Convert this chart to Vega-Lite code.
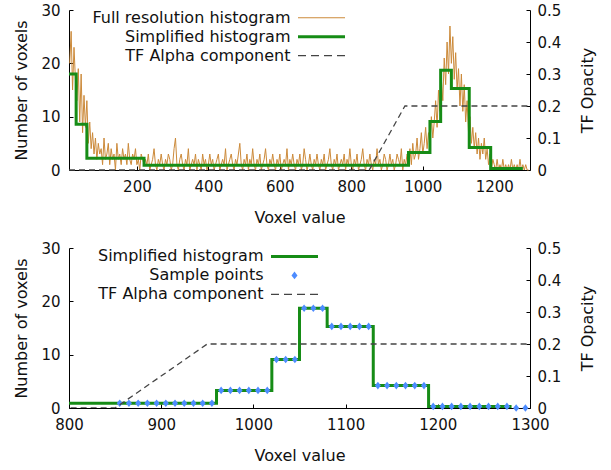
{
  "$schema": "https://vega.github.io/schema/vega-lite/v6.json",
  "padding": {"left": 13, "top": 3, "right": 5, "bottom": 5},
  "spacing": 16,
  "datasets": {
    "full": [
      {"v":12,"n":20},{"v":16,"n":26},{"v":20,"n":15},{"v":24,"n":23},{"v":28,"n":17},{"v":32,"n":13},{"v":36,"n":19},{"v":40,"n":9},{"v":44,"n":18},{"v":48,"n":7},{"v":52,"n":14},{"v":56,"n":8},{"v":60,"n":13},{"v":64,"n":5},{"v":68,"n":9},{"v":72,"n":4},{"v":76,"n":7},{"v":80,"n":3},{"v":84,"n":6},{"v":88,"n":2},{"v":92,"n":5},{"v":96,"n":3},{"v":100,"n":4},{"v":104,"n":1},{"v":108,"n":6},{"v":112,"n":2},{"v":116,"n":3},{"v":120,"n":5},{"v":124,"n":1},{"v":128,"n":4},{"v":132,"n":2},{"v":136,"n":3},{"v":140,"n":0},{"v":144,"n":5},{"v":148,"n":2},{"v":152,"n":3},{"v":156,"n":1},{"v":160,"n":4},{"v":164,"n":2},{"v":168,"n":3},{"v":172,"n":1},{"v":176,"n":5},{"v":180,"n":2},{"v":184,"n":1},{"v":188,"n":3},{"v":192,"n":2},{"v":196,"n":4},{"v":200,"n":1},{"v":204,"n":2},{"v":208,"n":0},{"v":212,"n":3},{"v":216,"n":2},{"v":220,"n":1},
      {"v":224,"n":2},{"v":228,"n":1},{"v":232,"n":3},{"v":236,"n":0},{"v":240,"n":1},{"v":244,"n":2},{"v":248,"n":4},{"v":252,"n":1},{"v":256,"n":0},{"v":260,"n":2},{"v":264,"n":1},{"v":268,"n":3},{"v":272,"n":1},{"v":276,"n":0},{"v":280,"n":2},{"v":284,"n":1},{"v":288,"n":3},{"v":292,"n":2},{"v":296,"n":0},{"v":300,"n":1},{"v":304,"n":4},{"v":308,"n":6},{"v":312,"n":1},{"v":316,"n":0},{"v":320,"n":2},{"v":324,"n":3},{"v":328,"n":1},{"v":332,"n":0},{"v":336,"n":2},{"v":340,"n":1},{"v":344,"n":4},{"v":348,"n":0},{"v":352,"n":1},{"v":356,"n":2},{"v":360,"n":1},{"v":364,"n":3},{"v":368,"n":0},{"v":372,"n":2},{"v":376,"n":1},{"v":380,"n":0},{"v":384,"n":3},{"v":388,"n":1},{"v":392,"n":2},{"v":396,"n":0},{"v":400,"n":1},{"v":404,"n":3},{"v":408,"n":1},{"v":412,"n":2},{"v":416,"n":0},{"v":420,"n":1},{"v":424,"n":2},{"v":428,"n":3},{"v":432,"n":0},{"v":436,"n":1},{"v":440,"n":2},{"v":444,"n":1},{"v":448,"n":4},{"v":452,"n":0},{"v":456,"n":1},{"v":460,"n":2},{"v":464,"n":3},{"v":468,"n":1},{"v":472,"n":0},{"v":476,"n":2},{"v":480,"n":1},{"v":484,"n":3},{"v":488,"n":5},{"v":492,"n":1},{"v":496,"n":0},{"v":500,"n":2},{"v":504,"n":1},{"v":508,"n":3},{"v":512,"n":0},{"v":516,"n":2},{"v":520,"n":1},{"v":524,"n":4},{"v":528,"n":1},{"v":532,"n":0},{"v":536,"n":2},{"v":540,"n":1},{"v":544,"n":3},{"v":548,"n":0},{"v":552,"n":1},{"v":556,"n":2},{"v":560,"n":4},{"v":564,"n":1},{"v":568,"n":0},{"v":572,"n":2},{"v":576,"n":1},{"v":580,"n":3},{"v":584,"n":1},{"v":588,"n":0},{"v":592,"n":2},{"v":596,"n":1},{"v":600,"n":3},{"v":604,"n":0},{"v":608,"n":1},{"v":612,"n":2},{"v":616,"n":1},{"v":620,"n":4},{"v":624,"n":0},{"v":628,"n":2},{"v":632,"n":1},{"v":636,"n":3},{"v":640,"n":1},{"v":644,"n":0},{"v":648,"n":2},{"v":652,"n":1},{"v":656,"n":3},{"v":660,"n":0},{"v":664,"n":1},{"v":668,"n":4},{"v":672,"n":2},{"v":676,"n":0},{"v":680,"n":1},{"v":684,"n":3},{"v":688,"n":1},{"v":692,"n":0},{"v":696,"n":2},{"v":700,"n":1},{"v":704,"n":3},{"v":708,"n":1},{"v":712,"n":0},{"v":716,"n":2},{"v":720,"n":1},{"v":724,"n":3},{"v":728,"n":0},{"v":732,"n":1},{"v":736,"n":2},{"v":740,"n":4},{"v":744,"n":1},{"v":748,"n":0},{"v":752,"n":2},{"v":756,"n":1},{"v":760,"n":3},{"v":764,"n":0},{"v":768,"n":1},{"v":772,"n":2},{"v":776,"n":1},{"v":780,"n":3},{"v":784,"n":0},{"v":788,"n":2},{"v":792,"n":1},{"v":796,"n":4},{"v":800,"n":1},{"v":804,"n":0},{"v":808,"n":2},{"v":812,"n":1},{"v":816,"n":3},{"v":820,"n":0},{"v":824,"n":1},{"v":828,"n":2},{"v":832,"n":4},{"v":836,"n":1},{"v":840,"n":0},{"v":844,"n":2},{"v":848,"n":1},{"v":852,"n":3},{"v":856,"n":1},{"v":860,"n":0},{"v":864,"n":2},{"v":868,"n":1},{"v":872,"n":4},{"v":876,"n":1},{"v":880,"n":2},{"v":884,"n":0},{"v":888,"n":1},{"v":892,"n":3},{"v":896,"n":2},{"v":900,"n":0},{"v":904,"n":1},{"v":908,"n":3},{"v":912,"n":1},{"v":916,"n":2},{"v":920,"n":0},{"v":924,"n":1},{"v":928,"n":3},{"v":932,"n":2},{"v":936,"n":1},{"v":940,"n":4},{"v":944,"n":0},{"v":948,"n":2},
      {"v":952,"n":1},{"v":956,"n":3},{"v":960,"n":2},{"v":964,"n":4},{"v":968,"n":1},{"v":972,"n":5},{"v":976,"n":2},{"v":980,"n":3},{"v":984,"n":6},{"v":988,"n":2},{"v":992,"n":4},{"v":996,"n":7},{"v":1000,"n":3},{"v":1004,"n":5},{"v":1008,"n":8},{"v":1012,"n":4},{"v":1016,"n":7},{"v":1020,"n":5},{"v":1024,"n":10},{"v":1028,"n":6},{"v":1032,"n":9},{"v":1036,"n":13},{"v":1040,"n":8},{"v":1044,"n":15},{"v":1048,"n":11},{"v":1052,"n":17},{"v":1056,"n":13},{"v":1060,"n":21},{"v":1064,"n":16},{"v":1068,"n":24},{"v":1072,"n":18},{"v":1076,"n":27},{"v":1080,"n":20},{"v":1084,"n":25},{"v":1088,"n":17},{"v":1092,"n":22},{"v":1096,"n":15},{"v":1100,"n":19},{"v":1104,"n":12},{"v":1108,"n":18},{"v":1112,"n":11},{"v":1116,"n":16},{"v":1120,"n":9},{"v":1124,"n":13},{"v":1128,"n":7},{"v":1132,"n":10},{"v":1136,"n":5},{"v":1140,"n":8},{"v":1144,"n":4},{"v":1148,"n":7},{"v":1152,"n":3},{"v":1156,"n":6},{"v":1160,"n":2},{"v":1164,"n":5},{"v":1168,"n":3},{"v":1172,"n":6},{"v":1176,"n":2},{"v":1180,"n":4},{"v":1184,"n":1},{"v":1188,"n":3},{"v":1192,"n":0},{"v":1196,"n":2},{"v":1200,"n":1},{"v":1204,"n":0},{"v":1208,"n":2},{"v":1212,"n":0},{"v":1216,"n":1},{"v":1220,"n":0},{"v":1224,"n":2},{"v":1228,"n":0},{"v":1232,"n":1},{"v":1236,"n":0},{"v":1240,"n":1},{"v":1244,"n":0},{"v":1248,"n":2},{"v":1252,"n":0},{"v":1256,"n":1},{"v":1260,"n":0},{"v":1264,"n":1},{"v":1268,"n":0},{"v":1272,"n":2},{"v":1276,"n":0},{"v":1280,"n":1},{"v":1284,"n":0},{"v":1288,"n":1},{"v":1292,"n":0},{"v":1296,"n":0}
    ],
    "simp": [
      {"v":10,"n":18},{"v":30,"n":8.6},{"v":60,"n":2.2},{"v":220,"n":0.9},{"v":960,"n":3.3},{"v":1020,"n":9.1},{"v":1050,"n":18.7},{"v":1080,"n":15.3},{"v":1130,"n":4.2},{"v":1190,"n":0.3},{"v":1280,"n":0.3}
    ],
    "tf": [
      {"v":10,"a":0},{"v":850,"a":0},{"v":950,"a":0.2},{"v":1300,"a":0.2}
    ],
    "samples": [
      {"v":855,"n":0.9},{"v":865,"n":0.9},{"v":875,"n":0.9},{"v":885,"n":0.9},{"v":895,"n":0.9},{"v":905,"n":0.9},{"v":915,"n":0.9},{"v":925,"n":0.9},{"v":935,"n":0.9},{"v":945,"n":0.9},{"v":955,"n":0.9},
      {"v":965,"n":3.3},{"v":975,"n":3.3},{"v":985,"n":3.3},{"v":995,"n":3.3},{"v":1005,"n":3.3},{"v":1015,"n":3.3},
      {"v":1025,"n":9.1},{"v":1035,"n":9.1},{"v":1045,"n":9.1},
      {"v":1055,"n":18.7},{"v":1065,"n":18.7},{"v":1075,"n":18.7},
      {"v":1085,"n":15.3},{"v":1095,"n":15.3},{"v":1105,"n":15.3},{"v":1115,"n":15.3},{"v":1125,"n":15.3},
      {"v":1135,"n":4.2},{"v":1145,"n":4.2},{"v":1155,"n":4.2},{"v":1165,"n":4.2},{"v":1175,"n":4.2},{"v":1185,"n":4.2},
      {"v":1195,"n":0.3},{"v":1205,"n":0.3},{"v":1215,"n":0.3},{"v":1225,"n":0.3},{"v":1235,"n":0.3},{"v":1245,"n":0.3},{"v":1255,"n":0.3},{"v":1265,"n":0.3},{"v":1275,"n":0.3},{"v":1285,"n":0},{"v":1295,"n":0}
    ]
  },
  "config": {
    "view": {"stroke": null},
    "font": "DejaVu Sans",
    "axis": {
      "labelFont": "DejaVu Sans", "labelFontSize": 15, "labelColor": "#111111",
      "titleFont": "DejaVu Sans", "titleFontSize": 16, "titleFontWeight": "normal", "titleColor": "#111111",
      "domainColor": "#000000", "domainWidth": 1, "tickColor": "#000000", "tickWidth": 1,
      "tickSize": -4, "labelPadding": 13, "grid": false, "labelFlush": false
    },
    "legend": {
      "labelFont": "DejaVu Sans", "labelFontSize": 16, "labelColor": "#111111"
    }
  },
  "resolve": {
    "scale": {"color": "independent", "shape": "independent"},
    "legend": {"color": "independent", "shape": "independent"}
  },
  "vconcat": [
    {
      "width": 461,
      "height": 160,
      "layer": [
        {
          "layer": [
            {
              "data": {"name": "full"},
              "mark": {"type": "line", "color": "#cc8a3a", "strokeWidth": 1},
              "encoding": {
                "x": {"field": "v", "type": "quantitative", "scale": {"domain": [10, 1300], "nice": false, "zero": false}, "axis": {"values": [200, 400, 600, 800, 1000, 1200], "format": "d", "title": "Voxel value", "titlePadding": 15}},
                "y": {"field": "n", "type": "quantitative", "scale": {"domain": [0, 30], "nice": false}, "axis": {"values": [0, 5, 10, 15, 20, 25, 30], "title": "Number of voxels", "titlePadding": 11}}
              }
            },
            {
              "data": {"name": "simp"},
              "mark": {"type": "line", "interpolate": "step-after", "color": "#168c16", "strokeWidth": 3},
              "encoding": {
                "x": {"field": "v", "type": "quantitative"},
                "y": {"field": "n", "type": "quantitative"}
              }
            },
            {
              "data": {"name": "simp"},
              "mark": {"type": "point", "filled": true, "opacity": 0, "size": 400},
              "encoding": {
                "x": {"field": "v", "type": "quantitative"},
                "y": {"field": "n", "type": "quantitative"},
                "color": {"datum": "Simplified histogram", "type": "nominal", "scale": {"domain": ["Full resolution histogram", "Simplified histogram", "TF Alpha component"], "range": ["#cc8a3a", "#168c16", "#444444"]}, "legend": {"orient": "none", "legendX": 228, "legendY": -3.3, "title": null, "labelAlign": "right", "labelOffset": -42, "symbolOffset": 13.5, "symbolSize": 400, "rowPadding": 0, "symbolOpacity": 1, "labelLimit": 0}},
                "shape": {"datum": "Simplified histogram", "type": "nominal", "scale": {"domain": ["Full resolution histogram", "Simplified histogram", "TF Alpha component"], "range": ["M-2.35,-0.05H2.35V0.05H-2.35Z", "M-2.35,-0.15H2.35V0.15H-2.35Z", "M-2.35,-0.065H-1.55V0.065H-2.35Z M-1.05,-0.065H-0.25V0.065H-1.05Z M0.25,-0.065H1.05V0.065H0.25Z M1.55,-0.065H2.35V0.065H1.55Z"]}, "legend": {"orient": "none", "legendX": 228, "legendY": -3.3, "title": null, "labelAlign": "right", "labelOffset": -42, "symbolOffset": 13.5, "symbolSize": 400, "rowPadding": 0, "symbolOpacity": 1, "labelLimit": 0}}
              }
            }
          ]
        },
        {
          "data": {"name": "tf"},
          "mark": {"type": "line", "color": "#444444", "strokeWidth": 1.3, "strokeDash": [6, 4]},
          "encoding": {
            "x": {"field": "v", "type": "quantitative"},
            "y": {"field": "a", "type": "quantitative", "scale": {"domain": [0, 0.5], "nice": false}, "axis": {"orient": "right", "values": [0, 0.1, 0.2, 0.3, 0.4, 0.5], "labelExpr": "datum.value == 0 ? '0' : format(datum.value, '.1f')", "labelPadding": 11, "title": "TF Opacity", "titleAngle": 270, "titlePadding": 35}}
          }
        }
      ],
      "resolve": {"scale": {"y": "independent"}}
    },
    {
      "width": 461,
      "height": 160,
      "layer": [
        {
          "layer": [
            {
              "data": {"name": "simp"},
              "mark": {"type": "line", "interpolate": "step-after", "clip": true, "color": "#168c16", "strokeWidth": 3},
              "encoding": {
                "x": {"field": "v", "type": "quantitative", "scale": {"domain": [800, 1300], "nice": false, "zero": false}, "axis": {"values": [800, 900, 1000, 1100, 1200, 1300], "format": "d", "title": "Voxel value", "titlePadding": 15}},
                "y": {"field": "n", "type": "quantitative", "scale": {"domain": [0, 30], "nice": false}, "axis": {"values": [0, 5, 10, 15, 20, 25, 30], "title": "Number of voxels", "titlePadding": 11}}
              }
            },
            {
              "data": {"name": "samples"},
              "mark": {"type": "point", "filled": true, "opacity": 1, "size": 400},
              "encoding": {
                "x": {"field": "v", "type": "quantitative"},
                "y": {"field": "n", "type": "quantitative"},
                "color": {"datum": "Sample points", "type": "nominal", "scale": {"domain": ["Simplified histogram", "Sample points", "TF Alpha component"], "range": ["#168c16", "#4d8cff", "#444444"]}, "legend": {"orient": "none", "legendX": 201, "legendY": -2.6, "title": null, "labelAlign": "right", "labelOffset": -42, "symbolOffset": 13.5, "symbolSize": 400, "rowPadding": 0, "symbolOpacity": 1, "labelLimit": 0}},
                "shape": {"datum": "Sample points", "type": "nominal", "scale": {"domain": ["Simplified histogram", "Sample points", "TF Alpha component"], "range": ["M-2.35,-0.15H2.35V0.15H-2.35Z", "M0,-0.38L0.3,0L0,0.38L-0.3,0Z", "M-2.35,-0.065H-1.55V0.065H-2.35Z M-1.05,-0.065H-0.25V0.065H-1.05Z M0.25,-0.065H1.05V0.065H0.25Z M1.55,-0.065H2.35V0.065H1.55Z"]}, "legend": {"orient": "none", "legendX": 201, "legendY": -2.6, "title": null, "labelAlign": "right", "labelOffset": -42, "symbolOffset": 13.5, "symbolSize": 400, "rowPadding": 0, "symbolOpacity": 1, "labelLimit": 0}}
              }
            }
          ]
        },
        {
          "data": {"name": "tf"},
          "mark": {"type": "line", "clip": true, "color": "#444444", "strokeWidth": 1.3, "strokeDash": [6, 4]},
          "encoding": {
            "x": {"field": "v", "type": "quantitative"},
            "y": {"field": "a", "type": "quantitative", "scale": {"domain": [0, 0.5], "nice": false}, "axis": {"orient": "right", "values": [0, 0.1, 0.2, 0.3, 0.4, 0.5], "labelExpr": "datum.value == 0 ? '0' : format(datum.value, '.1f')", "labelPadding": 11, "title": "TF Opacity", "titleAngle": 270, "titlePadding": 35}}
          }
        }
      ],
      "resolve": {"scale": {"y": "independent"}}
    }
  ]
}
